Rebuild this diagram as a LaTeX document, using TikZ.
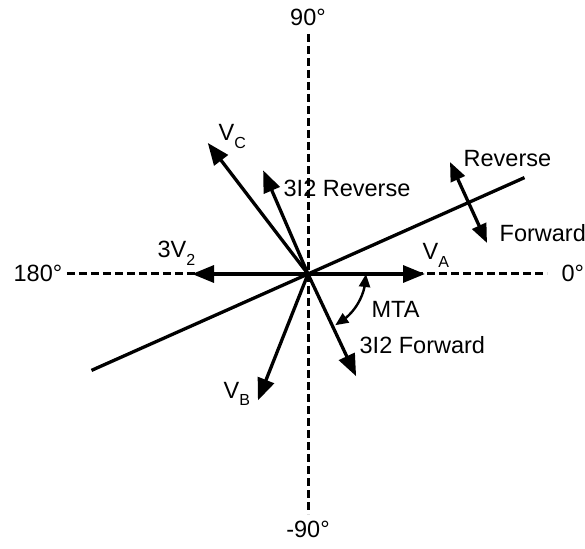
\documentclass[tikz,border=0pt]{standalone}
\usepackage{fontspec}
\setmainfont{Liberation Sans}
\usetikzlibrary{arrows.meta,bending}
\newcommand{\lowsub}[1]{\raisebox{-0.34em}{\fontsize{16}{16}\selectfont #1}}
\begin{document}
\begin{tikzpicture}[x=1pt, y=1pt, line width=3.3pt,
        vec/.style={-{Triangle[length=22pt,width=17pt]}},
        dbl/.style={{Triangle[length=19pt,width=15pt]}-{Triangle[length=19pt,width=15pt]}},
        mtaarc/.style={line width=2.4pt,{Triangle[length=13pt,width=11pt]}-{Triangle[length=13pt,width=11pt]}},
        axis/.style={line width=3pt, dash pattern=on 8pt off 4pt},
        lbl/.style={font=\fontsize{23.5}{28}\selectfont, inner sep=0pt, anchor=base west}]
        \useasboundingbox (-308,-274) rectangle (277,274);
        \coordinate (O) at (0,0);

        \coordinate (top) at (0,240);
        \coordinate (bot) at (0,-240);
        \coordinate (lft) at (-241,0);
        \coordinate (rgt) at (239,0);
        \draw[axis] (top)--(bot);
        \draw[axis] (lft)--(rgt);
        \node[lbl, anchor=base] (deg90) at (0,248) {90°};
        \node[lbl, anchor=base] (degm90) at (0,-263) {-90°};
        \node[lbl] (deg180) at (-296,-8) {180°};
        \node[lbl] (deg0) at (252,-8) {0°};

        \coordinate (mtaL) at (204:237);
        \coordinate (mtaR) at (24:237);
        \draw (mtaL)--(mtaR);

        \coordinate (va) at (0:117);
        \coordinate (v2) at (180:116);
        \coordinate (vc) at (127.4:165);
        \coordinate (vb) at (248.4:136);
        \coordinate (irev) at (113.4:113);
        \coordinate (ifwd) at (-64.8:113);
        \draw[vec] (O)--(va);
        \draw[vec] (O)--(v2);
        \draw[vec] (O)--(vc);
        \draw[vec] (O)--(vb);
        \draw[vec] (O)--(irev);
        \draw[vec] (O)--(ifwd);

        \node[lbl] (vaL) at (113,14) {V\lowsub{A}};
        \node[lbl] (v2L) at (-152,16) {3V\lowsub{2}};
        \node[lbl] (vcL) at (-91,133) {V\lowsub{C}};
        \node[lbl] (vbL) at (-86,-124) {V\lowsub{B}};
        \node[lbl] (irevL) at (-26,77) {3I2 Reverse};
        \node[lbl] (ifwdL) at (50,-79) {3I2 Forward};

        \draw[mtaarc] (0:58) arc[start angle=0, end angle=-62, radius=58];
        \node[lbl] (mta) at (62,-44) {MTA};

        \coordinate (rv) at (142,112);
        \coordinate (fw) at (179,31);
        \draw[dbl] (rv)--(fw);
        \node[lbl] (rvL) at (154,107) {Reverse};
        \node[lbl] (fwL) at (190,32) {Forward};
      \end{tikzpicture}
\end{document}
